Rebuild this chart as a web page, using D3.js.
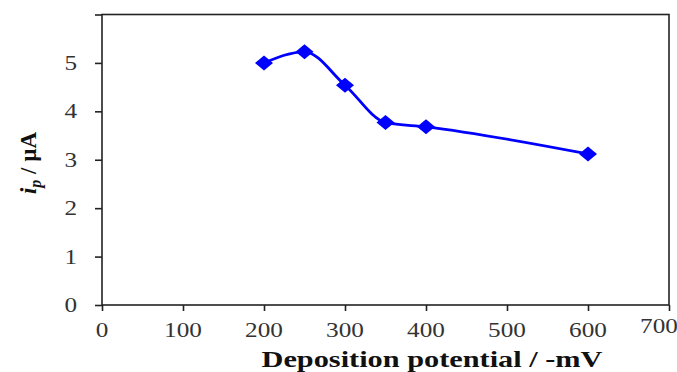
<!DOCTYPE html>
<html>
<head>
<meta charset="utf-8">
<title>Deposition potential</title>
<script src="https://cdn.jsdelivr.net/npm/d3@7"></script>
<style>
  body { margin: 0; background: #fff; }
  .tick-label { font-family: "Liberation Serif", "Times New Roman", serif; font-size: 21px; fill: #333; }
  .title { font-family: "Liberation Serif", "Times New Roman", serif; font-weight: bold; fill: #111; }
</style>
</head>
<body>
<script>
// data
var potentials = [200, 250, 300, 350, 400, 600];   // -mV
var currents   = [5.00, 5.23, 4.54, 3.77, 3.68, 3.12]; // uA
var xTicks = [0, 100, 200, 300, 400, 500, 600, 700];
var yTicks = [0, 1, 2, 3, 4, 5, 6];
var yLabels = ["0", "1", "2", "3", "4", "5", ""];

var width = 677, height = 372;
var margin = {top: 14.5, right: 8, bottom: 67, left: 102};

var svg = d3.select("body").append("svg")
    .attr("width", width)
    .attr("height", height);

var x = d3.scaleLinear().domain([0, 700]).range([margin.left, width - margin.right]);
var y = d3.scaleLinear().domain([0, 6]).range([height - margin.bottom, margin.top]);

var axisColor = "#222";

// frame
svg.append("rect")
    .attr("x", x(0)).attr("y", y(6))
    .attr("width", x(700) - x(0)).attr("height", y(0) - y(6))
    .attr("fill", "none").attr("stroke", axisColor).attr("stroke-width", 1.6);

// x axis
var gx = svg.append("g").attr("transform", "translate(0," + y(0) + ")")
    .call(d3.axisBottom(x).tickValues(xTicks).tickSize(6).tickFormat(""));
gx.select(".domain").remove();
gx.selectAll("line").attr("stroke", axisColor).attr("stroke-width", 1.6);

// y axis
var gy = svg.append("g").attr("transform", "translate(" + x(0) + ",0)")
    .call(d3.axisLeft(y).tickValues(yTicks).tickSize(7).tickFormat(""));
gy.select(".domain").remove();
gy.selectAll("line").attr("stroke", axisColor).attr("stroke-width", 1.6);

// tick labels (the original is stretched sideways a bit)
svg.selectAll(".xl").data(xTicks).enter().append("text")
    .attr("class", "tick-label")
    .attr("x", function(d) { return d === 700 ? x(d) - 10 : x(d); })
    .attr("y", function(d) { return d === 700 ? 333 : 337; })
    .attr("text-anchor", "middle")
    .attr("textLength", function(d) { return String(d).length * 12.6; })
    .attr("lengthAdjust", "spacingAndGlyphs")
    .text(function(d) { return d; });

svg.selectAll(".yl").data(yTicks).enter().append("text")
    .attr("class", "tick-label")
    .attr("x", 77)
    .attr("y", function(d) { return y(d) + 7; })
    .attr("text-anchor", "end")
    .attr("textLength", function(d, i) { return yLabels[i].length * 12.6; })
    .attr("lengthAdjust", "spacingAndGlyphs")
    .text(function(d, i) { return yLabels[i]; });

// axis titles
svg.append("text")
    .attr("class", "title")
    .attr("x", 432).attr("y", 367)
    .attr("text-anchor", "middle")
    .style("font-size", "24px")
    .attr("textLength", 341)
    .attr("lengthAdjust", "spacingAndGlyphs")
    .text("Deposition potential / -mV");

var yt = svg.append("text")
    .attr("class", "title")
    .attr("transform", "translate(36,163) rotate(-90)")
    .attr("text-anchor", "middle")
    .style("font-size", "23px");
yt.append("tspan").style("font-style", "italic").text("i");
yt.append("tspan").style("font-style", "italic").style("font-size", "16px").attr("dy", 5).text("p");
yt.append("tspan").attr("dy", -5).text(" / µA");

// line + markers
var pts = potentials.map(function(p, i) { return [p, currents[i]]; });

var line = d3.line()
    .x(function(d) { return x(d[0]); })
    .y(function(d) { return y(d[1]); })
    .curve(d3.curveMonotoneX);

svg.append("path")
    .datum(pts)
    .attr("d", line)
    .attr("fill", "none")
    .attr("stroke", "#0000ff")
    .attr("stroke-width", 2.8);

svg.selectAll(".marker").data(pts).enter().append("path")
    .attr("class", "marker")
    .attr("transform", function(d) { return "translate(" + x(d[0]) + "," + y(d[1]) + ")"; })
    .attr("d", "M0,-7.5L9,0L0,7.5L-9,0Z")
    .attr("fill", "#0000ff");
</script>
</body>
</html>
